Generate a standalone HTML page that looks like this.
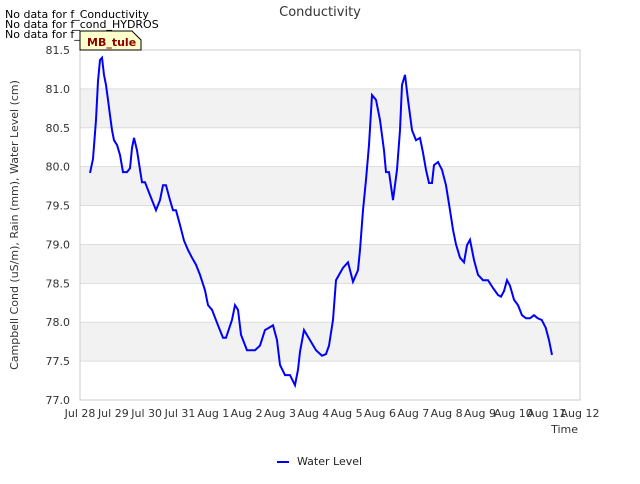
<!DOCTYPE html>
<html><head><meta charset="utf-8"><style>
body{margin:0;background:#fff;width:640px;height:480px;overflow:hidden;font-family:"DejaVu Sans","Liberation Sans",sans-serif;}
</style></head><body>
<svg id="chart" width="640" height="480" xmlns="http://www.w3.org/2000/svg" font-family="DejaVu Sans, Liberation Sans, sans-serif">
<rect width="640" height="480" fill="#fff"/>
<g id="bands"></g>
<g id="grid"></g>
<rect x="80" y="50" width="500" height="350" fill="none" stroke="#ccc"/>
<g id="yticks" font-size="11" fill="#333" text-anchor="end"></g>
<g id="xticks" font-size="11" fill="#333" text-anchor="middle"></g>
<path id="series" fill="none" stroke="#0000ff" stroke-width="2"/>
<text x="320" y="16" font-size="13" fill="#333" text-anchor="middle">Conductivity</text>
<text transform="translate(18,225) rotate(-90)" font-size="11" fill="#333" text-anchor="middle">Campbell Cond (uS/m), Rain (mm), Water Level (cm)</text>
<text x="578" y="433" font-size="11" fill="#333" text-anchor="end">Time</text>
<g font-size="11" fill="#000">
<text x="5" y="18">No data for f_Conductivity</text>
<text x="5" y="28">No data for f_cond_HYDROS</text>
<text x="5" y="38">No data for f_ppt</text>
</g>
<g>
<path d="M80,50 L80,31 L132,31 L141,40 L141,50 Z" fill="#ffffcc" stroke="#000" stroke-width="1"/>
<text x="87" y="46" font-size="11" font-weight="bold" fill="#8b0000">MB_tule</text>
</g>
<g>
<line x1="277" y1="462" x2="289" y2="462" stroke="#0000ff" stroke-width="2"/>
<text x="297" y="465" font-size="11" fill="#222">Water Level</text>
</g>
</svg>
<script>
const yTicks=[77.0,77.5,78.0,78.5,79.0,79.5,80.0,80.5,81.0,81.5];
const xTickLabels=["Jul 28","Jul 29","Jul 30","Jul 31","Aug 1","Aug 2","Aug 3","Aug 4","Aug 5","Aug 6","Aug 7","Aug 8","Aug 9","Aug 10","Aug 11","Aug 12"];
const days=[0.3,0.39,0.48,0.54,0.6,0.66,0.72,0.78,0.84,0.9,0.96,1.02,1.11,1.2,1.29,1.41,1.5,1.56,1.62,1.71,1.8,1.86,1.95,2.04,2.16,2.28,2.4,2.49,2.58,2.7,2.79,2.88,3.0,3.12,3.24,3.36,3.48,3.6,3.75,3.84,3.96,4.14,4.29,4.38,4.56,4.65,4.74,4.83,5.01,5.25,5.4,5.55,5.67,5.79,5.91,6.0,6.15,6.3,6.45,6.54,6.6,6.72,6.9,7.08,7.26,7.38,7.47,7.59,7.68,7.89,8.04,8.19,8.34,8.4,8.49,8.58,8.67,8.76,8.88,9.0,9.12,9.18,9.27,9.39,9.51,9.6,9.66,9.75,9.84,9.96,10.08,10.2,10.29,10.38,10.47,10.56,10.62,10.74,10.86,10.98,11.1,11.19,11.28,11.4,11.52,11.61,11.7,11.82,11.94,12.09,12.24,12.39,12.54,12.63,12.72,12.81,12.9,13.02,13.14,13.26,13.38,13.5,13.62,13.73,13.85,13.97,14.07,14.16];
const values=[79.92,80.1,80.6,81.1,81.37,81.4,81.18,81.05,80.86,80.66,80.47,80.34,80.28,80.15,79.93,79.93,79.98,80.24,80.37,80.21,79.96,79.8,79.8,79.7,79.57,79.44,79.57,79.76,79.76,79.57,79.44,79.44,79.25,79.05,78.93,78.83,78.74,78.61,78.41,78.22,78.16,77.96,77.8,77.8,78.03,78.22,78.16,77.84,77.64,77.64,77.7,77.9,77.93,77.96,77.77,77.45,77.32,77.32,77.19,77.39,77.62,77.9,77.77,77.64,77.57,77.59,77.7,78.03,78.54,78.7,78.77,78.52,78.67,78.93,79.44,79.83,80.28,80.92,80.86,80.6,80.21,79.93,79.93,79.57,79.96,80.47,81.05,81.18,80.86,80.47,80.34,80.37,80.18,79.96,79.79,79.79,80.02,80.06,79.96,79.76,79.44,79.19,79.0,78.83,78.77,78.99,79.06,78.8,78.61,78.54,78.54,78.44,78.35,78.33,78.4,78.54,78.47,78.29,78.22,78.09,78.05,78.05,78.09,78.05,78.03,77.93,77.77,77.58,77.39];
const X0=80,X1=580,Y0=400,Y1=50,DMIN=0,DMAX=15,VMIN=77,VMAX=81.5;
const xS=d=>X0+(d-DMIN)/(DMAX-DMIN)*(X1-X0);
const yS=v=>Y0-(v-VMIN)/(VMAX-VMIN)*(Y0-Y1);
const NS="http://www.w3.org/2000/svg";
const bands=document.getElementById('bands'),grid=document.getElementById('grid');
for(let i=0;i<yTicks.length-1;i++){
  if(i%2===1){const r=document.createElementNS(NS,'rect');
  
  
  r.setAttribute('x',X0);r.setAttribute('width',X1-X0);r.setAttribute('y',yS(yTicks[i+1]));r.setAttribute('height',yS(yTicks[i])-yS(yTicks[i+1]));r.setAttribute('fill','#f2f2f2');bands.appendChild(r);}
}
const yt=document.getElementById('yticks');
yTicks.forEach(v=>{
  const l=document.createElementNS(NS,'line');
  
  
  l.setAttribute('x1',X0);l.setAttribute('x2',X1);l.setAttribute('y1',yS(v));l.setAttribute('y2',yS(v));l.setAttribute('stroke','#ddd');grid.appendChild(l);
  const t=document.createElementNS(NS,'text');
  
  
  t.setAttribute('x',X0-10);t.setAttribute('y',yS(v)+4);t.textContent=v.toFixed(1);yt.appendChild(t);
});
const xt=document.getElementById('xticks');
xTickLabels.forEach((s,i)=>{
  const t=document.createElementNS(NS,'text');
  
  
  t.setAttribute('x',xS(i));t.setAttribute('y',417);t.textContent=s;xt.appendChild(t);
});
document.getElementById('series').setAttribute('d',days.map((d,i)=>(i?'L':'M')+xS(d).toFixed(1)+','+yS(values[i]).toFixed(1)).join(' '));
</script>
</body></html>
